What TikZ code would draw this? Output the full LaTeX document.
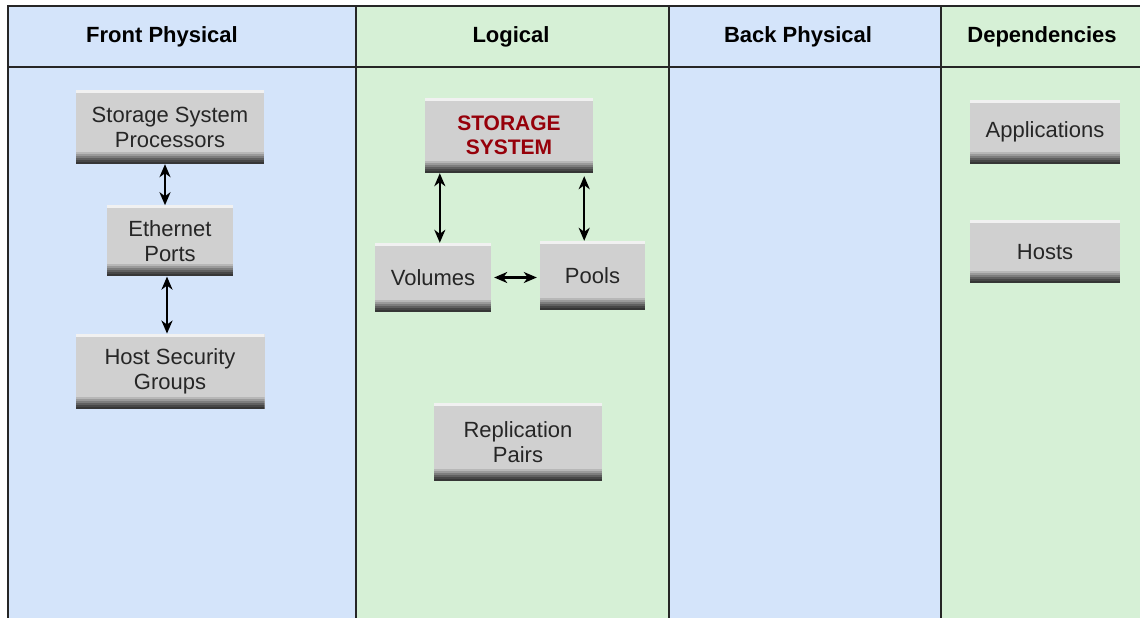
\documentclass[tikz,border=0pt]{standalone}
\usepackage{fontspec}
\setmainfont{Liberation Sans}
\usetikzlibrary{arrows.meta,positioning}
\definecolor{laneblue}{RGB}{212,228,250}
\definecolor{lanegreen}{RGB}{214,240,214}
\definecolor{boxgray}{RGB}{208,208,208}
\definecolor{ssred}{RGB}{150,0,10}

\begin{document}
\begin{tikzpicture}[x=1pt, y=-1pt,
  box/.style={rectangle, fill=boxgray, align=center, inner sep=0pt,
              text=black!85, font=\fontsize{22}{25}\selectfont,
              path picture={
                \foreach \k/\c in {0/88,1/74,2/60,3/46,4/34,5/26}
                  \fill[boxgray!\c!black]
                    ([yshift={(12-2*\k)*1pt}]path picture bounding box.south west)
                    rectangle ([yshift={(10-2*\k)*1pt}]path picture bounding box.south east);
                \fill[white!70!boxgray] (path picture bounding box.north west)
                  rectangle ([yshift=-3pt]path picture bounding box.north east);}},
  head/.style={font=\bfseries\fontsize{22}{25}\selectfont, anchor=base},
  rule/.style={line width=1.8pt, black!85},
  arr/.style={{Stealth[length=13pt,width=11pt,inset=4pt]}-{Stealth[length=13pt,width=11pt,inset=4pt]},
              line width=2.4pt}]
\useasboundingbox (0,0) rectangle (1140,618);
% lanes
\fill[laneblue] (8,6) rectangle (356,618);
\fill[lanegreen] (356,6) rectangle (669,618);
\fill[laneblue] (669,6) rectangle (941,618);
\fill[lanegreen] (941,6) rectangle (1140,618);
\draw[rule] (8,618) -- (8,6) -- (1140,6);
\draw[rule] (8,67) -- (1140,67);
\foreach \x in {356,669,941}
  \draw[rule] (\x,6) -- (\x,618);
% headers
\node[head] (hfront) at (162,43) {Front Physical};
\node[head] (hlogic) at (511,43) {Logical};
\node[head] (hback) at (798,43) {Back Physical};
\node[head] (hdeps) at (1042,43) {Dependencies};
% front physical
\node[box, minimum width=188pt, minimum height=74pt] (ssp) at (170,127)
  {Storage System\\Processors};
\node[box, minimum width=126pt, minimum height=71pt, below=41pt of ssp] (eth)
  {Ethernet\\Ports};
\node[box, minimum width=189pt, minimum height=75pt, below=57pt of eth] (hsg)
  {Host Security\\Groups};
% logical
\node[box, minimum width=168pt, minimum height=75pt, text=ssred,
      font=\bfseries\fontsize{21}{24}\selectfont] (stsys) at (509,135.5)
  {STORAGE\\SYSTEM};
\node[box, minimum width=116pt, minimum height=69pt] (vol) at (433,277.5) {Volumes};
\node[box, minimum width=105pt, minimum height=69pt] (pools) at (592.5,275.5) {Pools};
\node[box, minimum width=168pt, minimum height=78pt] (rep) at (518,442)
  {Replication\\Pairs};
% dependencies
\node[box, minimum width=150pt, minimum height=64pt] (apps) at (1045,132) {Applications};
\node[box, minimum width=150pt, minimum height=63pt, below=56pt of apps] (hosts) {Hosts};
% links
\coordinate (c1) at ([xshift=-5pt]ssp.south);
\coordinate (c2) at ([xshift=-3pt]eth.south);
\coordinate (c3) at ([xshift=15pt]stsys.south west);
\coordinate (c4) at ([xshift=-9pt]stsys.south east);
\draw[arr] (c1) -- (c1 |- eth.north);
\draw[arr] (c2) -- (c2 |- hsg.north);
\draw[arr] (c3) -- (c3 |- vol.north);
\draw[arr, shorten <=3pt] (c4) -- (c4 |- pools.north);
\draw[arr, shorten <=3pt, shorten >=3pt] (vol.east) -- (vol.east -| pools.west);
\end{tikzpicture}
\end{document}
